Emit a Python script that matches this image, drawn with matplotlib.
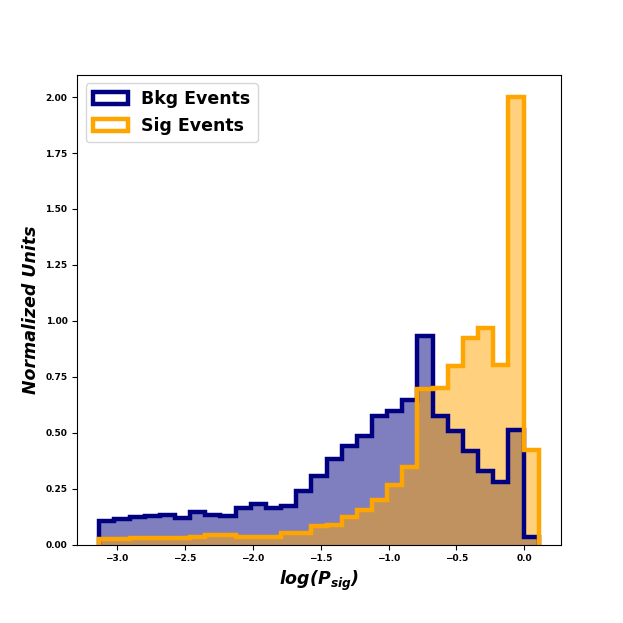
import numpy as np
import matplotlib
matplotlib.use('Agg')
import matplotlib.pyplot as plt

# bin edges of log(P_sig) histogram (29 bins)
lo, hi, nbins = -3.128, 0.105, 29
edges = np.linspace(lo, hi, nbins + 1)
centers = 0.5 * (edges[:-1] + edges[1:])

# normalized heights
bkg = [0.104, 0.115, 0.124, 0.127, 0.132, 0.120, 0.147, 0.131, 0.127, 0.165,
       0.180, 0.162, 0.171, 0.240, 0.305, 0.384, 0.442, 0.487, 0.576, 0.595,
       0.647, 0.933, 0.573, 0.506, 0.417, 0.330, 0.278, 0.513, 0.035]
sig = [0.025, 0.025, 0.030, 0.030, 0.030, 0.028, 0.035, 0.042, 0.042, 0.034,
       0.034, 0.034, 0.052, 0.052, 0.083, 0.089, 0.124, 0.156, 0.201, 0.268,
       0.347, 0.695, 0.700, 0.799, 0.922, 0.967, 0.803, 2.000, 0.421]

plt.rcParams['mathtext.fontset'] = 'custom'
plt.rcParams['mathtext.it'] = 'DejaVu Sans:italic:bold'
plt.rcParams['mathtext.rm'] = 'DejaVu Sans:bold'

fig = plt.figure(figsize=(6.23, 6.23), dpi=100)
ax = fig.add_subplot(111)
fig.subplots_adjust(left=0.124, right=0.9, top=0.88, bottom=0.126)

ax.hist(centers, bins=edges, weights=bkg, histtype='bar', color='navy', alpha=0.5)
ax.hist(centers, bins=edges, weights=sig, histtype='bar', color='orange', alpha=0.5)
ax.hist(centers, bins=edges, weights=bkg, histtype='step', color='navy', linewidth=3.2, label='Bkg Events')
ax.hist(centers, bins=edges, weights=sig, histtype='step', color='orange', linewidth=3.2, label='Sig Events')

ax.set_yticks([0.0, 0.25, 0.5, 0.75, 1.0, 1.25, 1.5, 1.75, 2.0])
for lab in ax.get_xticklabels() + ax.get_yticklabels():
    lab.set_fontweight('bold')
    lab.set_fontsize(6.5)

ax.set_xlabel('log(P$_{sig}$)', fontsize=12.5, fontweight='bold', style='italic')
ax.set_ylabel('Normalized Units', fontsize=12.5, fontweight='bold', style='italic')

ax.legend(loc='upper left', prop={'weight': 'bold', 'size': 12.5})

plt.savefig('out.png', dpi=100)
